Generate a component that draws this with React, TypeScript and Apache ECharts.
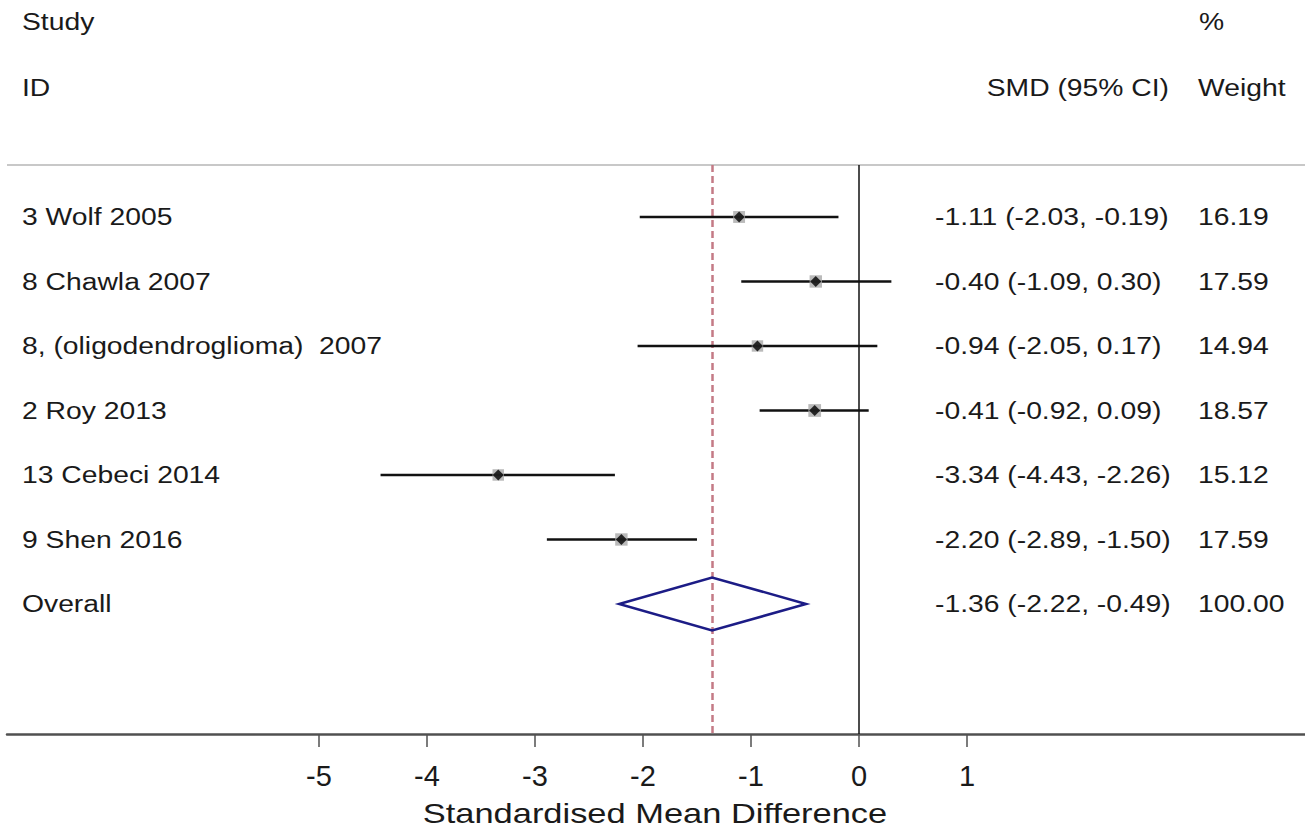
import React, { useEffect, useRef } from "react";
import * as echarts from "echarts";

const studies = [
  "3 Wolf 2005",
  "8 Chawla 2007",
  "8, (oligodendroglioma)  2007",
  "2 Roy 2013",
  "13 Cebeci 2014",
  "9 Shen 2016",
];
const smd = [-1.11, -0.4, -0.94, -0.41, -3.34, -2.2];
const lower = [-2.03, -1.09, -2.05, -0.92, -4.43, -2.89];
const upper = [-0.19, 0.3, 0.17, 0.09, -2.26, -1.5];
const weights = [16.19, 17.59, 14.94, 18.57, 15.12, 17.59];
const overallLabel = "Overall";
const overallSmd = -1.36;
const overallLower = -2.22;
const overallUpper = -0.49;
const overallWeight = 100.0;
const xTicks = [-5, -4, -3, -2, -1, 0, 1];
const headerStudy = ["Study", "ID"];
const headerEffect = "SMD (95% CI)";
const headerWeight = ["%", "Weight"];
const axisTitle = "Standardised Mean Difference";

const FONT = "Liberation Sans, Arial, sans-serif";
const TXT = "#1a1a1a";
const SX = 1.23;

const fmt = (v: number) => v.toFixed(2);

export default function App() {
  const ref = useRef<HTMLDivElement>(null);
  useEffect(() => {
    if (!ref.current) return;
    const chart = echarts.init(ref.current, undefined, { renderer: "svg" });

    const rowLabels = [...studies, overallLabel];
    const rowEffects = [
      ...smd.map((v, i) => `${fmt(v)} (${fmt(lower[i])}, ${fmt(upper[i])})`),
      `${fmt(overallSmd)} (${fmt(overallLower)}, ${fmt(overallUpper)})`,
    ];
    const rowWeights = [...weights, overallWeight].map(fmt);

    const txt = (text: string, x: number, y: number, size: number, align = "left") => ({
      type: "text",
      x,
      y,
      scaleX: SX,
      silent: true,
      style: {
        text,
        x: 0,
        y: 0,
        fill: TXT,
        font: `${size}px ${FONT}`,
        textAlign: align,
        align,
        textVerticalAlign: "middle",
        verticalAlign: "middle",
      },
    });

    const option: any = {
      animation: false,
      backgroundColor: "#ffffff",
      grid: { left: 7, right: 0, top: 165, bottom: 98, containLabel: false },
      xAxis: {
        type: "value",
        min: -7.889,
        max: 4.13,
        splitLine: { show: false },
        axisLine: { show: true, onZero: false, lineStyle: { color: "#505050", width: 2.5 } },
        axisTick: {
          show: true,
          customValues: xTicks,
          length: 13,
          lineStyle: { color: "#505050", width: 1.5 },
        },
        axisLabel: {
          show: true,
          customValues: xTicks,
          fontSize: 29,
          fontFamily: FONT,
          color: TXT,
          margin: 27,
        },
      },
      yAxis: {
        type: "value",
        inverse: true,
        min: -0.806,
        max: 8.016,
        show: false,
      },
      graphic: [
        {
          type: "line",
          silent: true,
          shape: { x1: 7, y1: 165, x2: 1305, y2: 165 },
          style: { stroke: "#c8c8c8", lineWidth: 2 },
        },
        txt(headerStudy[0], 22, 22, 23),
        txt(headerStudy[1], 22, 88, 23),
        txt(headerEffect, 1169, 88, 23, "right"),
        txt(headerWeight[0], 1199, 22, 23),
        txt(headerWeight[1], 1198, 88, 23),
        txt(axisTitle, 655, 814, 28, "center"),
      ],
      series: [
        {
          type: "custom",
          name: "ci",
          silent: true,
          z: 3,
          data: smd.map((_, i) => [lower[i], upper[i], i]),
          encode: { x: [0, 1], y: 2 },
          renderItem: (params: any, api: any) => {
            const r = api.value(2);
            const p1 = api.coord([api.value(0), r]);
            const p2 = api.coord([api.value(1), r]);
            return {
              type: "line",
              shape: { x1: p1[0], y1: p1[1], x2: p2[0], y2: p2[1] },
              style: { stroke: "#111111", lineWidth: 2.5 },
            };
          },
          markLine: {
            silent: true,
            symbol: ["none", "none"],
            label: { show: false },
            z: 1,
            data: [
              { xAxis: 0, lineStyle: { color: "#111111", width: 1.5, type: "solid" } },
              { xAxis: overallSmd, lineStyle: { color: "#c47a85", width: 2.5, type: [7, 4] } },
            ],
          },
        },
        {
          type: "scatter",
          name: "weight box",
          silent: true,
          z: 4,
          symbol: "rect",
          symbolSize: (v: number[]) => 12 * Math.sqrt(v[2] / 16.5),
          itemStyle: { color: "#a9a9a9" },
          data: smd.map((v, i) => [v, i, weights[i]]),
        },
        {
          type: "scatter",
          name: "estimate",
          silent: true,
          z: 5,
          symbol: "diamond",
          symbolSize: 11,
          itemStyle: { color: "#000000" },
          data: smd.map((v, i) => [v, i]),
        },
        {
          type: "custom",
          name: "overall",
          silent: true,
          z: 5,
          data: [[overallLower, overallSmd, overallUpper, studies.length]],
          encode: { x: [0, 2], y: 3 },
          renderItem: (params: any, api: any) => {
            const r = api.value(3);
            const l = api.coord([api.value(0), r]);
            const c = api.coord([api.value(1), r]);
            const h = api.coord([api.value(2), r]);
            const hh = 26.5;
            return {
              type: "polygon",
              shape: {
                points: [
                  [l[0], l[1]],
                  [c[0], c[1] - hh],
                  [h[0], h[1]],
                  [c[0], c[1] + hh],
                ],
              },
              style: { fill: "none", stroke: "#1c1c86", lineWidth: 2.5 },
            };
          },
        },
        {
          type: "custom",
          name: "table",
          silent: true,
          z: 6,
          data: rowLabels.map((_, i) => [0, i]),
          encode: { x: 0, y: 1 },
          renderItem: (params: any, api: any) => {
            const r = api.value(1);
            const y = api.coord([0, r])[1];
            return {
              type: "group",
              children: [
                txt(rowLabels[r], 22, y, 23),
                txt(rowEffects[r], 935, y, 23),
                txt(rowWeights[r], 1198, y, 23),
              ],
            };
          },
        },
      ],
    };
    chart.setOption(option);
    return () => chart.dispose();
  }, []);

  return (
    <div
      ref={ref}
      style={{ position: "absolute", left: 0, top: 0, width: 1305, height: 832, background: "#fff" }}
    />
  );
}
